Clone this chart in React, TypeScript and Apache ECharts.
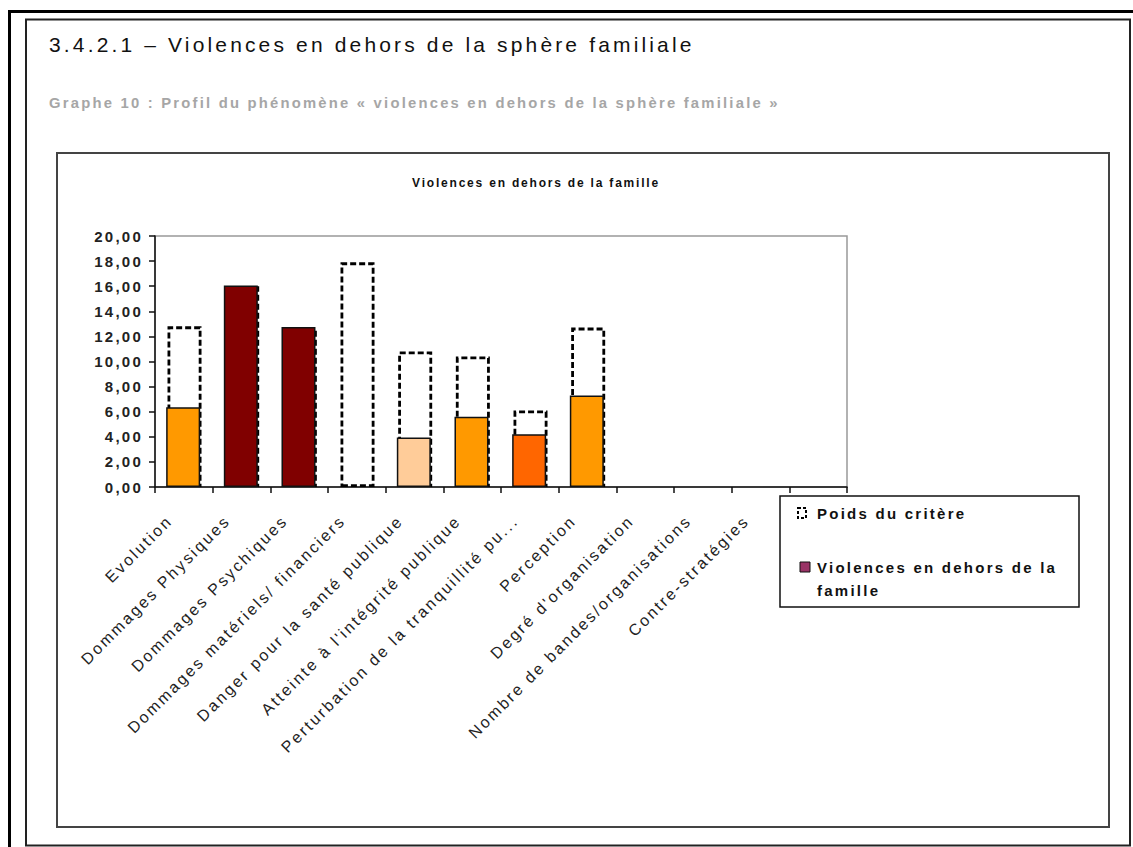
import React, { useEffect, useRef } from "react";
import * as echarts from "echarts";

const categories = [
  "Evolution",
  "Dommages Physiques",
  "Dommages Psychiques",
  "Dommages matériels/ financiers",
  "Danger pour la santé publique",
  "Atteinte à l'intégrité publique",
  "Perturbation de la tranquillité pu...",
  "Perception",
  "Degré d'organisation",
  "Nombre de bandes/organisations",
  "Contre-stratégies",
  "",
];
const poidsCritere = [12.8, 16.0, 12.7, 17.9, 10.8, 10.4, 6.1, 12.7, 0, 0, 0, 0];
const violences = [6.35, 16.05, 12.75, 0, 3.95, 5.6, 4.2, 7.3, 0, 0, 0, 0];
const barColors = [
  "#FF9900", "#800000", "#800000", "#FF9900", "#FFCC99", "#FF9900",
  "#FF6600", "#FF9900", "#FF9900", "#FF9900", "#FF9900", "#FF9900",
];
const yTicks = { min: 0, max: 20, interval: 2 };
const seriesNames = ["Poids du critère", "Violences en dehors de la famille"];
const mainTitle = "3.4.2.1 – Violences en dehors de la sphère familiale";
const subTitle = "Graphe 10 : Profil du phénomène « violences en dehors de la sphère familiale »";
const chartTitle = "Violences en dehors de la famille";

const FONT = "'Liberation Sans', Arial, sans-serif";

export default function App() {
  const ref = useRef<HTMLDivElement>(null);
  useEffect(() => {
    if (!ref.current) return;
    const chart = echarts.init(ref.current, null, { renderer: "svg" });
    const nz = (v: number) => (v === 0 ? "-" : v);
    chart.setOption({
      animation: false,
      backgroundColor: "#fff",
      textStyle: { fontFamily: FONT },
      title: [
        {
          text: mainTitle,
          left: 49,
          top: 34,
          padding: 0,
          textStyle: { fontSize: 21, fontWeight: "normal", color: "#111", fontFamily: FONT },
        },
        {
          text: subTitle,
          left: 49,
          top: 95,
          padding: 0,
          textStyle: { fontSize: 14.8, fontWeight: "bold", color: "#a6a6a6", fontFamily: FONT },
        },
        {
          text: chartTitle,
          left: 536,
          textAlign: "center",
          top: 177,
          padding: 0,
          textStyle: { fontSize: 12, fontWeight: "bold", color: "#111", fontFamily: FONT },
        },
      ],
      grid: {
        left: 155,
        right: 286,
        top: 236,
        bottom: 360,
        show: true,
        borderColor: "#999",
        borderWidth: 1.5,
        backgroundColor: "#fff",
      },
      xAxis: {
        type: "category",
        data: categories,
        axisLine: { lineStyle: { color: "#111", width: 1.5 } },
        axisTick: { show: true, length: 6, lineStyle: { color: "#111", width: 1.5 } },
        axisLabel: {
          interval: 0,
          rotate: 45,
          fontSize: 16,
          color: "#222",
          fontFamily: FONT,
          margin: 17,
          padding: [0, 20, 0, 0],
        },
      },
      yAxis: {
        type: "value",
        min: yTicks.min,
        max: yTicks.max,
        interval: yTicks.interval,
        axisLine: { show: true, lineStyle: { color: "#111", width: 1.5 } },
        axisTick: { show: true, length: 6, lineStyle: { color: "#111", width: 1.5 } },
        splitLine: { show: false },
        axisLabel: {
          fontSize: 15,
          fontWeight: "bold",
          color: "#222",
          fontFamily: FONT,
          margin: 12,
          formatter: (v: number) => v.toFixed(2).replace(".", ","),
        },
      },
      series: [
        {
          name: seriesNames[1],
          type: "bar",
          z: 3,
          barWidth: 34,
          barGap: "-96%",
          data: violences.map((v, i) => ({
            value: nz(v),
            itemStyle: { color: barColors[i] },
          })),
          itemStyle: { borderColor: "#111", borderWidth: 1.5 },
        },
        {
          name: seriesNames[0],
          type: "bar",
          z: 2,
          barWidth: 34,
          barGap: "-96%",
          data: poidsCritere.map(nz),
          itemStyle: {
            color: "#fff",
            borderColor: "#000",
            borderWidth: 2.8,
            borderType: [6, 3],
          },
        },
      ],
      graphic: [
        { type: "rect", shape: { x: 8, y: 10, width: 1125, height: 3 }, style: { fill: "#000" } },
        { type: "rect", shape: { x: 8, y: 10, width: 3, height: 837 }, style: { fill: "#000" } },
        {
          type: "rect",
          shape: { x: 26, y: 19.5, width: 1104, height: 826 },
          style: { fill: "none", stroke: "#222", lineWidth: 2 },
          silent: true,
        },
        {
          type: "rect",
          shape: { x: 57, y: 153, width: 1052, height: 674 },
          style: { fill: "none", stroke: "#444", lineWidth: 2 },
          silent: true,
        },
        {
          type: "rect",
          shape: { x: 780, y: 496, width: 299, height: 111 },
          style: { fill: "#fff", stroke: "#111", lineWidth: 1.5 },
          z: 10,
        },
        {
          type: "rect",
          shape: { x: 798, y: 508, width: 8, height: 10 },
          style: { fill: "#fff", stroke: "#000", lineWidth: 2, lineDash: [3, 2] },
          z: 11,
        },
        {
          type: "text",
          x: 817,
          y: 513,
          style: {
            text: seriesNames[0],
            fontSize: 15,
            fontWeight: "bold",
            fontFamily: FONT,
            fill: "#111",
            verticalAlign: "middle",
          },
          z: 11,
        },
        {
          type: "rect",
          shape: { x: 800, y: 562, width: 10, height: 10 },
          style: { fill: "#993366", stroke: "#111", lineWidth: 1 },
          z: 11,
        },
        {
          type: "text",
          x: 817,
          y: 556,
          style: {
            text: "Violences en dehors de la\nfamille",
            fontSize: 15,
            fontWeight: "bold",
            lineHeight: 23,
            fontFamily: FONT,
            fill: "#111",
            verticalAlign: "top",
          },
          z: 11,
        },
      ],
    });
    return () => chart.dispose();
  }, []);

  return (
    <>
      <style>{`.chart-root svg text { letter-spacing: 0.15em; }`}</style>
      <div
        ref={ref}
        className="chart-root"
        style={{ position: "absolute", left: 0, top: 0, width: 1133, height: 847 }}
      />
    </>
  );
}
